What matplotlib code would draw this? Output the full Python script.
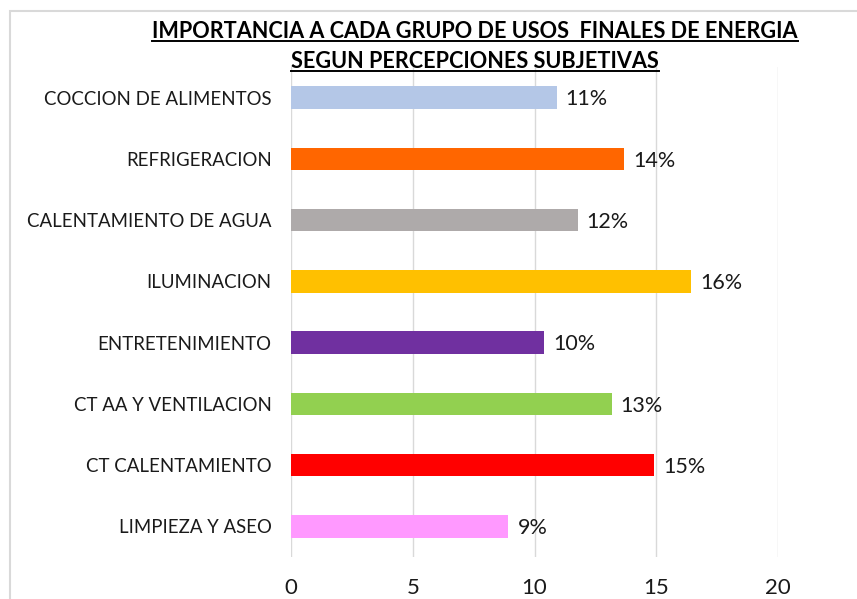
import numpy as np
import matplotlib
matplotlib.use("Agg")
import matplotlib.pyplot as plt
from matplotlib.patches import Rectangle
from matplotlib.lines import Line2D

plt.rcParams['font.family'] = ['Lato', 'DejaVu Sans']

categories = ['COCCION DE ALIMENTOS', 'REFRIGERACION', 'CALENTAMIENTO DE AGUA',
              'ILUMINACION', 'ENTRETENIMIENTO', 'CT AA Y VENTILACION',
              'CT CALENTAMIENTO', 'LIMPIEZA Y ASEO']
values = [10.91, 13.69, 11.77, 16.43, 10.39, 13.17, 14.91, 8.93]
labels = ['11%', '14%', '12%', '16%', '10%', '13%', '15%', '9%']
colors = ['#b4c7e7', '#ff6600', '#aeaaaa', '#ffc000', '#7030a0', '#92d050', '#ff0000', '#ff99ff']
title_lines = ['IMPORTANCIA A CADA GRUPO DE USOS  FINALES DE ENERGIA',
               'SEGUN PERCEPCIONES SUBJETIVAS']

W, H = 857, 599
fig = plt.figure(figsize=(W / 100, H / 100), dpi=100)

# light frame around chart area (cropped on the right/bottom)
fig.patches.append(Rectangle((10 / W, -0.1), 1, 1.1 - 11 / H, transform=fig.transFigure,
                             fill=False, edgecolor='#d9d9d9', linewidth=1.5))

ax = fig.add_axes([291 / W, 1 - 557 / H, 487 / W, 490 / H])
y = np.arange(len(categories))
ax.barh(y, values, height=0.37, color=colors, zorder=3)
for yi, v, lab in zip(y, values, labels):
    ax.text(v + 0.37, yi + 0.03, lab, va='center', ha='left', fontsize=15.5, color='#1a1a1a')

ax.set_xlim(0, 20)
ax.set_ylim(len(categories) - 0.5, -0.5)
ax.set_xticks([0, 5, 10, 15, 20])
ax.set_yticks(y)
ax.set_yticklabels(categories)
ax.tick_params(axis='y', length=0, pad=14, labelsize=13.4, labelcolor='#1a1a1a')
ax.tick_params(axis='x', length=0, pad=15, labelsize=16, labelcolor='#1a1a1a')
ax.grid(axis='x', color='#d9d9d9', linewidth=1, zorder=0)
for s in ax.spines.values():
    s.set_visible(False)

# underlined bold title
t1 = fig.text(475 / W, 1 - 32 / H, title_lines[0], ha='center', va='center',
              fontsize=15.6, fontweight='bold')
t2 = fig.text(475 / W, 1 - 62 / H, title_lines[1], ha='center', va='center',
              fontsize=15.6, fontweight='bold')
fig.canvas.draw()
r = fig.canvas.get_renderer()
for t in (t1, t2):
    bb = t.get_window_extent(r)
    yl = bb.y0 + 1.5
    fig.lines.append(Line2D([bb.x0 / W, bb.x1 / W], [yl / H, yl / H],
                            transform=fig.transFigure, color='black', linewidth=1.4))

fig.savefig('out.png', dpi=100)
